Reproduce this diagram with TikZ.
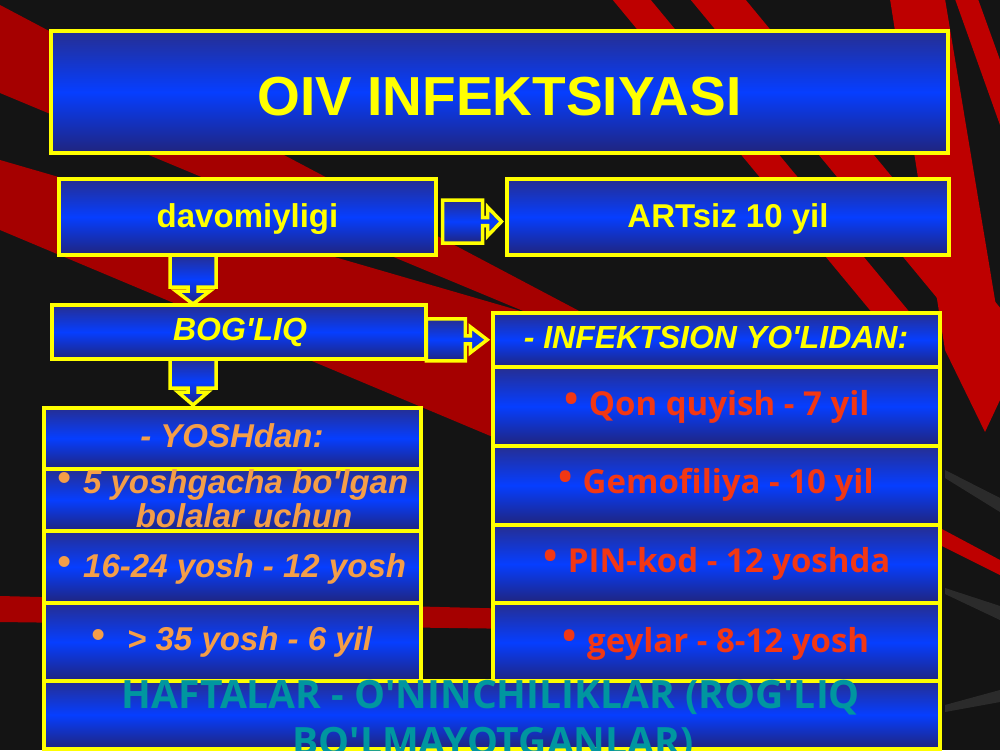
\documentclass[tikz,border=0pt]{standalone}
\usepackage{fontspec}
\setmainfont{Liberation Sans}
\newfontfamily\osans{Open Sans}
\usetikzlibrary{calc}
\definecolor{bgc}{RGB}{20,20,20}
\definecolor{redbg}{RGB}{165,0,0}
\definecolor{redbg2}{RGB}{190,0,0}
\definecolor{yel}{RGB}{255,255,0}
\definecolor{navyT}{RGB}{38,46,145}
\definecolor{navyB}{RGB}{32,36,125}
\definecolor{blueM}{RGB}{6,62,255}
\definecolor{ora}{RGB}{244,158,72}
\definecolor{redt}{RGB}{242,55,20}
\definecolor{tealc}{RGB}{0,150,160}
\newcommand\bulA{\raisebox{3pt}{\fontsize{38}{38}\selectfont •}}
\newcommand\aq{\textquotesingle}
\tikzset{
  box/.style={draw=yel, line width=4pt, top color=navyT, bottom color=navyB, middle color=blueM, inner sep=0pt, outer sep=0pt},
  callout/.style={draw=yel, line width=3.5pt, top color=navyT, bottom color=navyB, middle color=blueM, line join=miter},
  stripe/.style={fill=redbg},
  stripeb/.style={fill=redbg2},
  streak/.style={fill=white, fill opacity=0.10},
  ttl/.style={anchor=base, inner sep=0pt, text=yel, font=\fontsize{55}{55}\selectfont\bfseries},
  ylw/.style={anchor=base, inner sep=0pt, text=yel, font=\fontsize{33}{33}\selectfont\bfseries},
  ylwi/.style={anchor=base, inner sep=0pt, text=yel, font=\fontsize{32}{32}\selectfont\bfseries\itshape},
  org/.style={anchor=base, inner sep=0pt, text=ora, font=\fontsize{33}{33}\selectfont\bfseries\itshape},
  rd/.style={anchor=base, inner sep=0pt, text=redt, font=\osans\fontsize{33}{33}\selectfont\bfseries},
  tl/.style={anchor=base, inner sep=0pt, text=tealc, font=\osans\fontsize{39}{39}\selectfont\bfseries}
}
\begin{document}
\begin{tikzpicture}[x=1pt,y=-1pt]
\useasboundingbox (0,0) rectangle (1000,750);
\clip (0,0) rectangle (1000,750);
\fill[bgc] (0,0) rectangle (1000,750);
% background stripes
\fill[stripe] (0,5) -- (600,322) -- (600,343) -- (0,93) -- cycle;
\fill[stripe] (0,160) -- (700,363) -- (700,524) -- (0,230) -- cycle;
\fill[stripe] (0,596) -- (600,611) -- (600,630) -- (0,622) -- cycle;
\fill[stripeb] (612,-1) -- (650,-1) -- (941,350) -- (903,350) -- cycle;
\fill[stripeb] (690,-1) -- (745,-1) -- (1035,350) -- (980,350) -- cycle;
\fill[stripeb] (890,-1) -- (945,-1) -- (1000,330) -- (1000,400) -- (985,432) -- (945,350) -- cycle;
\fill[stripeb] (955,-1) -- (978,-1) -- (1000,60) -- (1000,125) -- cycle;
\fill[stripeb] (940,528) -- (1000,560) -- (1000,575) -- (940,545) -- cycle;
\fill[streak] (945,470) -- (1000,498) -- (1000,512) -- (945,478) -- cycle;
\fill[streak] (945,588) -- (1000,606) -- (1000,620) -- (945,594) -- cycle;
\fill[streak] (945,705) -- (1000,690) -- (1000,702) -- (945,712) -- cycle;

% boxes
\node[box, minimum width=897pt, minimum height=122pt] (title) at (499.5,92) {};
\node[box, minimum width=377pt, minimum height=76pt] (dav) at (247.5,217) {};
\node[box, minimum width=442pt, minimum height=76pt] (art) at (728,217) {};
\node[box, minimum width=374pt, minimum height=54pt] (bog) at (239,332) {};
\node[box, minimum width=447pt, minimum height=54pt] (inf) at (716,340) {};
\node[box, minimum width=447pt, minimum height=78.5pt] (qon) at (716,406.25) {};
\node[box, minimum width=447pt, minimum height=79.5pt] (gem) at (716,485.25) {};
\node[box, minimum width=447pt, minimum height=78pt] (pin) at (716,564) {};
\node[box, minimum width=447pt, minimum height=79pt] (gey) at (716,642.5) {};
\node[box, minimum width=377pt, minimum height=61.5pt] (yosh) at (232,438.25) {};
\node[box, minimum width=377pt, minimum height=62pt] (five) at (232,500) {};
\node[box, minimum width=377pt, minimum height=72pt] (sixt) at (232,567) {};
\node[box, minimum width=377pt, minimum height=78pt] (thir) at (232,642) {};
\node[box, minimum width=896.5pt, minimum height=67.5pt] (haft) at (491.75,714.75) {};

% block arrow callouts
\begin{scope}[shift={($(dav.east)!0.5!(art.west)+(0,4.5)$)}]
\draw[callout] (-29,-21.5) -- (11,-21.5) -- (11,-4) -- (16,-4) -- (16,-14.5) -- (30,0) -- (16,14.5) -- (16,4) -- (11,4) -- (11,21.5) -- (-29,21.5) -- cycle;
\end{scope}
\begin{scope}[shift={($(bog.east)!0.5!(inf.west)+(0,3.75)$)}]
\draw[callout] (-33,-21) -- (6,-21) -- (6,-4) -- (11,-4) -- (11,-13) -- (28,0) -- (11,13) -- (11,4) -- (6,4) -- (6,21) -- (-33,21) -- cycle;
\end{scope}
\begin{scope}[shift={($(dav.south west)+(134,0)$)}]
\draw[callout] (-23,0) -- (-23,32) -- (-5,32) -- (-5,36) -- (-17,36) -- (0,49) -- (17,36) -- (5,36) -- (5,32) -- (23,32) -- (23,0) -- cycle;
\end{scope}
\begin{scope}[shift={($(bog.south west)+(141,0)$)}]
\draw[callout] (-23,0) -- (-23,29) -- (-5,29) -- (-5,33) -- (-15,33) -- (0,46) -- (15,33) -- (5,33) -- (5,29) -- (23,29) -- (23,0) -- cycle;
\end{scope}

% texts
\node[ttl] (tTitle) at (499.5,115) {OIV INFEKTSIYASI};
\node[ylw] (tDav) at (247.5,227) {davomiyligi};
\node[ylw] (tArt) at (728,227) {ARTsiz 10 yil};
\node[ylwi] (tBog) at (240,340) {BOG\aq LIQ};
\node[ylwi] (tInf) at (716,348) {- INFEKTSION YO\aq LIDAN:};
\node[rd] (tQon) at (717,415) {\bulA\hspace{10pt}Qon quyish - 7 yil};
\node[rd] (tGem) at (716,493) {\bulA\hspace{10pt}Gemofiliya - 10 yil};
\node[rd] (tPin) at (717,572) {\bulA\hspace{10pt}PIN-kod - 12 yoshda};
\node[rd] (tGey) at (716,652) {\bulA\hspace{10pt}geylar - 8-12 yosh};
\node[org] (tYosh) at (232,447) {- YOSHdan:};
\node[org] (tFiveA) at (233,493) {\bulA\hspace{12pt}5 yoshgacha bo\aq lgan};
\node[org] (tFiveB) at (244,527) {bolalar uchun};
\node[org] (tSixt) at (232,577) {\bulA\hspace{12pt}16-24 yosh - 12 yosh};
\node[org] (tThir) at (232,650) {\bulA\hspace{22pt}> 35 yosh - 6 yil};
\node[tl] (tHaftA) at (491,708) {HAFTALAR - O\aq NINCHILIKLAR (ROG\aq LIQ};
\node[tl] (tHaftB) at (493,755) {BO\aq LMAYOTGANLAR)};
\end{tikzpicture}
\end{document}
